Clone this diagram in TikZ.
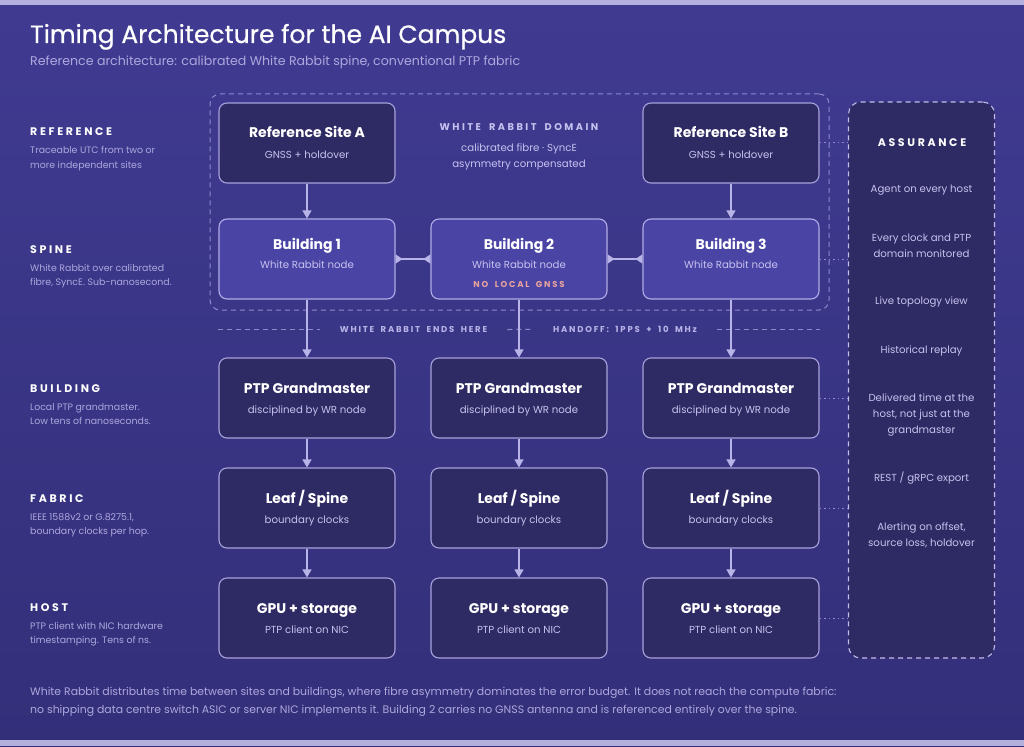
\documentclass[tikz,border=0pt]{standalone}
\usepackage{fontspec}
\setmainfont{Poppins}
\newfontfamily\titlefont[FakeBold=0.6]{Poppins}
\newfontfamily\spacedfont[LetterSpace=24]{Poppins}
\newfontfamily\spacedsm[LetterSpace=21,WordSpace=1.8]{Poppins}
\newfontfamily\spacedwr[LetterSpace=25,WordSpace=1.8]{Poppins}
\usetikzlibrary{arrows.meta,calc}
\definecolor{bgtop}{HTML}{403B91}
\definecolor{bgbot}{HTML}{332F79}
\definecolor{band}{HTML}{B4B0DD}
\definecolor{boxdark}{HTML}{2E2A63}
\definecolor{boxline}{HTML}{A8A2DC}
\definecolor{bldfill}{HTML}{4A44A4}
\definecolor{bldline}{HTML}{B2ACE8}
\definecolor{subtxt}{HTML}{C6C2EF}
\definecolor{desctxt}{HTML}{ADA8DE}
\definecolor{arrowc}{HTML}{B9B4E8}
\definecolor{dashc}{HTML}{8F89CC}
\definecolor{salmon}{HTML}{E9A39D}
\definecolor{asline}{HTML}{C2BDEA}
\tikzset{
  box/.style={draw=boxline, fill=boxdark, line width=1.1pt, rounded corners=8pt,
    minimum width=176pt, minimum height=80pt, inner sep=0pt},
  bbox/.style={box, fill=bldfill, draw=bldline},
  ttl/.style={font=\bfseries\fontsize{14}{16}\selectfont, text=white, anchor=base, inner sep=0pt},
  sub/.style={font=\fontsize{10.2}{12}\selectfont, text=subtxt, anchor=base, inner sep=0pt},
  lab/.style={font=\spacedfont\bfseries\fontsize{11}{13}\selectfont, text=white, anchor=base west, inner sep=0pt},
  desc/.style={font=\fontsize{9.4}{14}\selectfont, text=desctxt, anchor=base west, align=left, inner sep=0pt},
  arr/.style={draw=arrowc, line width=1.2pt, -{Triangle[width=9pt,length=8pt]}},
  biarr/.style={draw=arrowc, line width=1.2pt, {Triangle[reversed,width=9pt,length=7pt]}-{Triangle[reversed,width=9pt,length=7pt]}},
  dotl/.style={draw=dashc, line width=1pt, dash pattern=on 1.5pt off 3pt},
  sepl/.style={draw=dashc, line width=1pt, dash pattern=on 5pt off 4pt},
  seplab/.style={font=\spacedsm\bfseries\fontsize{8.5}{10}\selectfont, text=arrowc, anchor=base, inner xsep=20pt, inner ysep=0pt},
  aitem/.style={font=\fontsize{10.2}{16}\selectfont, text=subtxt, anchor=base, align=center, inner sep=0pt},
}
\begin{document}
\begin{tikzpicture}[x=1pt,y=-1pt]
\shade[top color=bgtop, bottom color=bgbot] (0,0) rectangle (1024,746);
\fill[band] (0,0) rectangle (1024,5);
\fill[band] (0,740) rectangle (1024,746);
\useasboundingbox (0,0) rectangle (1024,746);

% title
\node[anchor=base west, inner sep=0pt, font=\titlefont\fontsize{25}{29}\selectfont, text=white] (title) at (30,43) {Timing Architecture for the AI Campus};
\node[anchor=base west, inner sep=0pt, font=\fontsize{12.6}{15}\selectfont, text=desctxt] (subtitle) at (30,65.5) {Reference architecture: calibrated White Rabbit spine, conventional PTP fabric};

% left labels (multi-line nodes: base = last line)
\node[lab] (lref) at (30,135.5) {REFERENCE};
\node[desc] (dref) at (30,168) {Traceable UTC from two or\\more independent sites};
\node[lab] (lspine) at (30,253) {SPINE};
\node[desc] (dspine) at (30,285.5) {White Rabbit over calibrated\\fibre, SyncE. Sub-nanosecond.};
\node[lab] (lbld) at (30,392) {BUILDING};
\node[desc] (dbld) at (30,424.5) {Local PTP grandmaster.\\Low tens of nanoseconds.};
\node[lab] (lfab) at (30,502) {FABRIC};
\node[desc] (dfab) at (30,534) {IEEE 1588v2 or G.8275.1,\\boundary clocks per hop.};
\node[lab] (lhost) at (30,611) {HOST};
\node[desc] (dhost) at (30,643) {PTP client with NIC hardware\\timestamping. Tens of ns.};

% white rabbit domain
\node[draw=dashc, line width=1pt, dash pattern=on 5pt off 4pt, rounded corners=10pt,
  minimum width=619pt, minimum height=216pt, inner sep=0pt] (wrd) at (519.5,202) {};
\node[font=\spacedwr\bfseries\fontsize{9.8}{11}\selectfont, text=subtxt, anchor=base, inner sep=0pt] (wrdt) at (519,131) {WHITE RABBIT DOMAIN};
\node[sub] (wrd1) at (519,151.5) {calibrated fibre · SyncE};
\node[sub] (wrd2) at (519,167.5) {asymmetry compensated};

% assurance
\node[draw=asline, fill=boxdark, line width=1.1pt, dash pattern=on 5pt off 4pt, rounded corners=12pt,
  minimum width=146pt, minimum height=556pt, inner sep=0pt] (as) at (921.5,380) {};
\node[font=\spacedfont\bfseries\fontsize{11}{13}\selectfont, text=white, anchor=base, inner sep=0pt] (ast) at (922,146.5) {ASSURANCE};
\node[aitem] (a1) at (921.5,192.5) {Agent on every host};
\node[aitem] (a2) at (921.5,257) {Every clock and PTP\\domain monitored};
\node[aitem] (a3) at (921.5,304.5) {Live topology view};
\node[aitem] (a4) at (921.5,353.5) {Historical replay};
\node[aitem] (a5) at (921.5,433.5) {Delivered time at the\\host, not just at the\\grandmaster};
\node[aitem] (a6) at (921.5,481.5) {REST / gRPC export};
\node[aitem] (a7) at (921.5,546.5) {Alerting on offset,\\source loss, holdover};

% boxes
\node[box] (sa) at (307,143) {};
\node[box] (sb) at (731,143) {};
\node[bbox] (b1) at (307,259) {};
\node[bbox] (b2) at (519,259) {};
\node[bbox] (b3) at (731,259) {};
\node[box] (g1) at (307,398) {};
\node[box] (g2) at (519,398) {};
\node[box] (g3) at (731,398) {};
\node[box] (l1) at (307,508) {};
\node[box] (l2) at (519,508) {};
\node[box] (l3) at (731,508) {};
\node[box] (h1) at (307,618) {};
\node[box] (h2) at (519,618) {};
\node[box] (h3) at (731,618) {};

\node[ttl] (sat) at ($(sa.north)+(0,35.5)$) {Reference Site A};
\node[sub] (sas) at ($(sa.north)+(0,56.5)$) {GNSS + holdover};
\node[ttl] (sbt) at ($(sb.north)+(0,35.5)$) {Reference Site B};
\node[sub] (sbs) at ($(sb.north)+(0,56.5)$) {GNSS + holdover};

\node[ttl] (b1t) at ($(b1.north)+(0,31)$) {Building 1};
\node[sub] (b1s) at ($(b1.north)+(0,50.5)$) {White Rabbit node};
\node[ttl] (b2t) at ($(b2.north)+(0,31)$) {Building 2};
\node[sub] (b2s) at ($(b2.north)+(0,50.5)$) {White Rabbit node};
\node[font=\spacedsm\bfseries\fontsize{8.5}{10}\selectfont, text=salmon, anchor=base, inner sep=0pt] (b2n) at ($(b2.north)+(0,69.5)$) {NO LOCAL GNSS};
\node[ttl] (b3t) at ($(b3.north)+(0,31)$) {Building 3};
\node[sub] (b3s) at ($(b3.north)+(0,50.5)$) {White Rabbit node};

\foreach \n in {g1,g2,g3}{
  \node[ttl] (\n t) at ($(\n.north)+(0,36.5)$) {PTP Grandmaster};
  \node[sub] (\n s) at ($(\n.north)+(0,56.5)$) {disciplined by WR node};
}
\foreach \n in {l1,l2,l3}{
  \node[ttl] (\n t) at ($(\n.north)+(0,36)$) {Leaf / Spine};
  \node[sub] (\n s) at ($(\n.north)+(0,56.5)$) {boundary clocks};
}
\foreach \n in {h1,h2,h3}{
  \node[ttl] (\n t) at ($(\n.north)+(0,36)$) {GPU + storage};
  \node[sub] (\n s) at ($(\n.north)+(0,56.5)$) {PTP client on NIC};
}

% separator
\node[seplab] (s1) at (413.5,332.5) {WHITE RABBIT ENDS HERE};
\node[seplab] (s2) at (625,332.5) {HANDOFF: 1PPS + 10 MHz};
\draw[sepl] (s1.west -| g1.west) -- (s1.west);
\draw[sepl] (s1.east) -- (s2.west);
\draw[sepl] (s2.east) -- (s2.east -| g3.east);

% connectors
\draw[arr] (sa) -- (b1);
\draw[arr] (sb) -- (b3);
\draw[biarr] (b1) -- (b2);
\draw[biarr] (b2) -- (b3);
\draw[arr] (b1) -- (g1);
\draw[arr] (b2) -- (g2);
\draw[arr] (b3) -- (g3);
\draw[arr] (g1) -- (l1);
\draw[arr] (g2) -- (l2);
\draw[arr] (g3) -- (l3);
\draw[arr] (l1) -- (h1);
\draw[arr] (l2) -- (h2);
\draw[arr] (l3) -- (h3);

\draw[dotl] (sb.east) -- (sb.east -| as.west);
\draw[dotl] (b3.east) -- (b3.east -| as.west);
\draw[dotl] (g3.east) -- (g3.east -| as.west);
\draw[dotl] (l3.east) -- (l3.east -| as.west);
\draw[dotl] (h3.east) -- (h3.east -| as.west);

% footer
\node[anchor=base west, inner sep=0pt, align=left, font=\fontsize{10.9}{18}\selectfont, text=desctxt] (foot) at (30,713.5) {White Rabbit distributes time between sites and buildings, where fibre asymmetry dominates the error budget. It does not reach the compute fabric:\\no shipping data centre switch ASIC or server NIC implements it. Building 2 carries no GNSS antenna and is referenced entirely over the spine.};
\end{tikzpicture}
\end{document}
